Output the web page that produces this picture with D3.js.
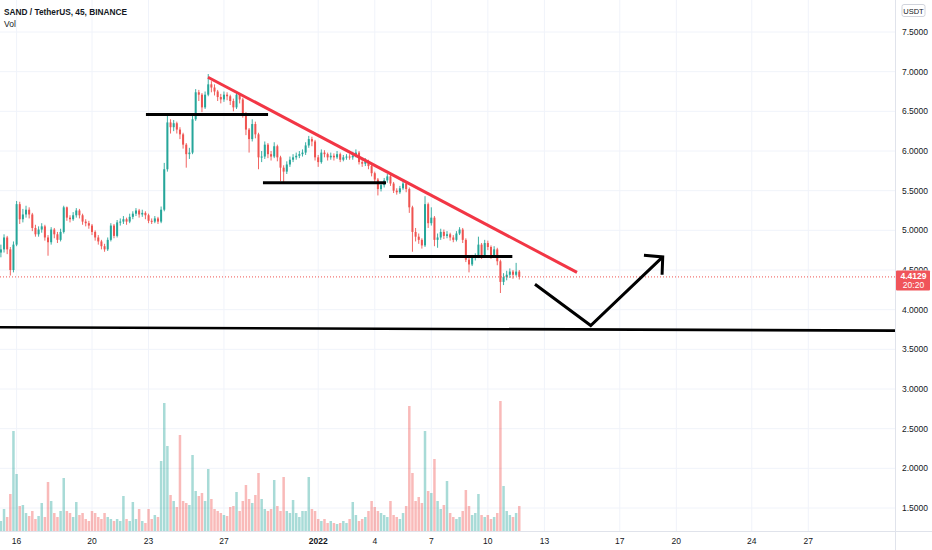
<!DOCTYPE html>
<html>
<head>
<meta charset="utf-8">
<script src="https://cdn.jsdelivr.net/npm/d3@7"></script>
<style>
  body { margin: 0; background: #fff; }
  svg { display: block; font-family: "Liberation Sans", Arial, sans-serif; }
</style>
</head>
<body>
<svg id="chart" width="932" height="550"></svg>
<script>
// data: SAND/USDT candles (4h buckets), Binance
var firstCandle = new Date(2021, 11, 15, 4);
var candleHours = 4;

var opens = [4.72,4.76,4.91,4.76,4.50,4.82,5.33,5.14,5.20,5.26,5.20,5.03,4.95,5.01,5.05,4.91,4.85,5.01,4.95,4.88,
  4.98,5.29,5.16,5.14,5.19,5.25,5.19,5.11,5.09,5.06,4.98,4.91,4.86,4.80,4.76,4.88,5.06,4.93,5.10,5.11,
  5.14,5.11,5.17,5.21,5.25,5.20,5.22,5.19,5.12,5.11,5.15,5.11,5.26,5.77,6.36,6.30,6.35,6.27,6.21,6.08,
  5.96,5.98,6.40,6.74,6.71,6.55,6.71,6.84,6.80,6.75,6.68,6.65,6.71,6.69,6.63,6.55,6.71,6.65,6.47,6.27,
  6.15,6.34,6.21,5.92,5.93,6.08,5.96,5.93,6.06,5.92,5.79,5.74,5.83,5.89,5.92,5.94,5.96,5.98,6.07,6.15,
  6.12,5.92,5.86,5.98,5.96,5.92,5.94,5.92,5.96,5.89,5.92,5.93,5.92,5.94,5.98,5.86,5.84,5.87,5.81,5.72,
  5.64,5.52,5.57,5.63,5.68,5.59,5.50,5.48,5.53,5.59,5.52,5.29,4.98,4.92,4.88,4.81,5.33,5.09,5.16,4.88,
  4.91,4.98,4.93,4.95,4.91,4.88,4.96,5.01,4.88,4.63,4.57,4.66,4.67,4.82,4.68,4.84,4.79,4.68,4.76,4.61,
  4.35,4.41,4.44,4.48,4.44,4.48];
var highs = [4.82,4.95,4.93,4.79,4.86,5.37,5.36,5.27,5.31,5.29,5.22,5.07,5.05,5.09,5.07,4.94,5.04,5.03,4.98,5.02,
  5.31,5.30,5.19,5.23,5.28,5.27,5.21,5.14,5.12,5.08,5.00,4.94,4.88,4.83,4.91,5.09,5.08,5.13,5.15,5.18,
  5.16,5.21,5.24,5.28,5.27,5.26,5.24,5.21,5.15,5.18,5.17,5.30,5.85,6.47,6.40,6.39,6.37,6.30,6.23,6.10,
  6.04,6.46,6.78,6.77,6.73,6.75,6.97,6.88,6.84,6.77,6.72,6.75,6.74,6.71,6.66,6.75,6.73,6.67,6.49,6.29,
  6.40,6.37,6.23,6.00,6.12,6.10,6.00,6.11,6.08,5.94,5.82,5.87,5.93,5.96,5.98,6.00,6.02,6.11,6.19,6.18,
  6.14,5.95,6.02,6.01,5.98,5.98,5.97,6.00,5.98,5.95,5.96,5.96,5.99,6.02,6.00,5.89,5.91,5.89,5.83,5.74,
  5.66,5.61,5.66,5.71,5.70,5.61,5.53,5.56,5.62,5.61,5.54,5.31,5.03,4.96,4.90,5.43,5.35,5.29,5.18,4.96,
  5.02,5.01,4.99,4.97,4.94,4.99,5.04,5.03,4.90,4.66,4.69,4.71,4.92,4.84,4.88,4.87,4.81,4.80,4.78,4.63,
  4.46,4.49,4.52,4.50,4.59,4.50];
var lows = [4.66,4.72,4.70,4.43,4.47,4.80,5.08,5.10,5.16,5.15,4.99,4.92,4.92,4.97,4.87,4.68,4.82,4.90,4.84,4.86,
  4.96,5.12,5.10,5.12,5.16,5.15,5.07,5.05,5.02,4.94,4.87,4.82,4.76,4.73,4.74,4.86,4.90,4.91,5.06,5.08,
  5.07,5.09,5.14,5.18,5.16,5.17,5.14,5.09,5.08,5.09,5.08,5.09,5.24,5.74,6.22,6.25,6.22,6.15,6.03,5.79,
  5.90,5.96,6.38,6.63,6.49,6.53,6.69,6.74,6.70,6.63,6.60,6.62,6.64,6.58,6.50,6.53,6.60,6.42,6.20,5.98,
  6.12,6.16,5.77,5.86,5.90,5.91,5.88,5.91,5.87,5.62,5.60,5.71,5.80,5.86,5.89,5.91,5.93,5.95,6.04,6.06,
  5.88,5.80,5.84,5.92,5.88,5.89,5.88,5.90,5.86,5.87,5.89,5.89,5.89,5.92,5.83,5.80,5.81,5.77,5.68,5.60,
  5.44,5.49,5.54,5.60,5.56,5.47,5.45,5.46,5.51,5.48,5.22,4.73,4.86,4.83,4.77,4.79,5.03,5.06,4.80,4.78,
  4.88,4.89,4.90,4.87,4.85,4.86,4.94,4.84,4.60,4.47,4.55,4.62,4.65,4.64,4.66,4.75,4.64,4.66,4.56,4.21,
  4.31,4.37,4.40,4.39,4.42,4.38];
var closes = [4.76,4.91,4.76,4.50,4.82,5.33,5.14,5.20,5.26,5.20,5.03,4.95,5.01,5.05,4.91,4.85,5.01,4.95,4.88,4.98,
  5.29,5.16,5.14,5.19,5.25,5.19,5.11,5.09,5.06,4.98,4.91,4.86,4.80,4.76,4.88,5.06,4.93,5.10,5.11,5.14,
  5.11,5.17,5.21,5.25,5.20,5.22,5.19,5.12,5.11,5.15,5.11,5.26,5.77,6.36,6.30,6.35,6.27,6.21,6.08,5.96,
  5.98,6.40,6.74,6.71,6.55,6.71,6.84,6.80,6.75,6.68,6.65,6.71,6.69,6.63,6.55,6.71,6.65,6.47,6.27,6.15,
  6.34,6.21,5.92,5.93,6.08,5.96,5.93,6.06,5.92,5.79,5.74,5.83,5.89,5.92,5.94,5.96,5.98,6.07,6.15,6.12,
  5.92,5.86,5.98,5.96,5.92,5.94,5.92,5.96,5.89,5.92,5.93,5.92,5.94,5.98,5.86,5.84,5.87,5.81,5.72,5.64,
  5.52,5.57,5.63,5.68,5.59,5.50,5.48,5.53,5.59,5.52,5.29,4.98,4.92,4.88,4.81,5.33,5.09,5.16,4.88,4.91,
  4.98,4.93,4.95,4.91,4.88,4.96,5.01,4.88,4.63,4.57,4.66,4.67,4.82,4.68,4.84,4.79,4.68,4.76,4.61,4.35,
  4.41,4.44,4.48,4.44,4.48,4.4129];
// volume in millions SAND
var volumes = [0.20,0.44,0.28,0.74,2.00,1.14,0.50,0.52,0.36,0.30,0.40,0.24,0.30,0.56,0.28,0.98,0.60,0.36,0.28,0.40,
  1.06,0.40,0.36,0.28,0.58,0.32,0.36,0.24,0.20,0.40,0.36,0.28,0.24,0.36,0.28,0.24,0.20,0.24,0.20,0.70,
  0.24,0.20,0.58,0.24,0.44,0.20,0.16,0.44,0.24,0.32,0.28,1.40,2.56,1.70,0.72,0.60,0.48,1.92,0.60,0.56,
  0.52,1.52,0.80,0.70,0.76,0.60,1.24,0.64,0.44,0.40,0.36,0.32,0.30,0.48,0.50,0.78,0.40,0.60,0.92,0.64,
  0.56,0.72,1.16,0.64,0.44,0.40,0.44,1.02,0.50,0.40,1.08,0.40,0.36,0.62,0.36,0.28,0.40,0.40,1.08,0.44,
  0.40,0.24,0.20,0.24,0.16,0.20,0.16,0.14,0.16,0.20,0.16,0.24,0.58,0.32,0.20,0.24,0.28,0.40,0.60,0.48,
  0.40,0.36,0.32,0.28,0.60,0.32,0.28,0.24,0.36,0.50,2.50,1.16,0.60,0.68,0.56,2.00,0.80,0.76,1.44,0.60,
  0.44,0.52,1.00,0.36,0.28,0.24,0.28,0.40,0.82,0.50,0.32,0.36,0.74,0.32,0.28,0.32,0.24,0.28,0.36,2.60,
  0.90,0.40,0.32,0.28,0.36,0.50];

var priceTicks = [1.5, 2, 2.5, 3, 3.5, 4, 4.5, 5, 5.5, 6, 6.5, 7, 7.5];
var timeTicks = [new Date(2021,11,16), new Date(2021,11,20), new Date(2021,11,23), new Date(2021,11,27),
  new Date(2022,0,1), new Date(2022,0,4), new Date(2022,0,7), new Date(2022,0,10), new Date(2022,0,13),
  new Date(2022,0,17), new Date(2022,0,20), new Date(2022,0,24), new Date(2022,0,27)];
var timeTickLabels = ["16", "20", "23", "27", "2022", "4", "7", "10", "13", "17", "20", "24", "27"];

var lastPrice = 4.4129;
var lastCountdown = "20:20";

// drawings on the chart (time, price)
var levelLines = [
  [[new Date(2021,11,22,20,40), 6.46], [new Date(2021,11,29,8,10), 6.46]],
  [[new Date(2021,11,29,1,40), 5.60], [new Date(2022,0,4,14,20), 5.60]],
  [[new Date(2022,0,4,18,10), 4.67], [new Date(2022,0,11,7,10), 4.67]]
];
var trendLine = [[new Date(2021,11,26,3,40), 6.93], [new Date(2022,0,14,17,30), 4.47]];
var supportLine = [[new Date(2021,11,14), 3.780], [new Date(2022,1,2), 3.734]];
var arrowPath = [[new Date(2022,0,12,12,0), 4.32], [new Date(2022,0,15,11,0), 3.80], [new Date(2022,0,19,6,40), 4.665]];
var arrowHead = [[new Date(2022,0,18,6,45), 4.686], [new Date(2022,0,19,6,40), 4.665], [new Date(2022,0,19,5,50), 4.44]];

// layout
var W = 932, H = 550;
var plotRight = 895, timeAxisY = 531;
var upColor = "#26a69a", downColor = "#ef5350";
var textColor = "#131722";

var svg = d3.select("#chart");

var x = d3.scaleTime()
  .domain([new Date(2021,11,16), new Date(2022,0,27)])
  .range([16.6, 808.3]);
var y = d3.scaleLinear().domain([1.5, 7.5]).range([508, 32]);
var yVol = d3.scaleLinear().domain([0, 2.6]).range([timeAxisY, 401]);

var candles = closes.map(function (c, i) {
  return {
    t: d3.timeHour.offset(firstCandle, i * candleHours),
    o: opens[i], h: highs[i], l: lows[i], c: c, v: volumes[i]
  };
});

var badgeTop = y(lastPrice) - 6.5;

var defs = svg.append("defs");
defs.append("clipPath").attr("id", "plotClip")
  .append("rect").attr("x", 0).attr("y", 0).attr("width", plotRight).attr("height", timeAxisY);
// price labels are hidden where the last price badge sits
defs.append("clipPath").attr("id", "axisClip")
  .append("path")
  .attr("d", "M" + plotRight + ",0H" + W + "V" + badgeTop + "H" + plotRight + "Z" +
    "M" + plotRight + "," + (badgeTop + 20) + "H" + W + "V" + timeAxisY + "H" + plotRight + "Z");

// grid
var grid = svg.append("g");
grid.selectAll("line.h").data(priceTicks).enter().append("line")
  .attr("x1", 0).attr("x2", plotRight)
  .attr("y1", function (d) { return y(d); }).attr("y2", function (d) { return y(d); })
  .attr("stroke", "#f0f3fa").attr("stroke-width", 1);
grid.selectAll("line.v").data(timeTicks).enter().append("line")
  .attr("x1", function (d) { return x(d); }).attr("x2", function (d) { return x(d); })
  .attr("y1", 0).attr("y2", timeAxisY)
  .attr("stroke", "#f0f3fa").attr("stroke-width", 1);

var plot = svg.append("g").attr("clip-path", "url(#plotClip)");

// volume
plot.append("g").selectAll("rect").data(candles).enter().append("rect")
  .attr("x", function (d) { return x(d.t) - 1.25; })
  .attr("width", 2.5)
  .attr("y", function (d) { return yVol(d.v); })
  .attr("height", function (d) { return yVol(0) - yVol(d.v); })
  .attr("fill", function (d) { return d.c >= d.o ? upColor : downColor; })
  .attr("fill-opacity", 0.4);

// candles
var cg = plot.append("g").selectAll("g").data(candles).enter().append("g");
cg.append("line")
  .attr("x1", function (d) { return x(d.t); }).attr("x2", function (d) { return x(d.t); })
  .attr("y1", function (d) { return y(d.h); }).attr("y2", function (d) { return y(d.l); })
  .attr("stroke", function (d) { return d.c >= d.o ? upColor : downColor; })
  .attr("stroke-width", 0.9);
cg.append("rect")
  .attr("x", function (d) { return x(d.t) - 1; })
  .attr("width", 2)
  .attr("y", function (d) { return y(Math.max(d.o, d.c)); })
  .attr("height", function (d) { return Math.max(1, Math.abs(y(d.o) - y(d.c))); })
  .attr("fill", function (d) { return d.c >= d.o ? upColor : downColor; });

// last price line
plot.append("line")
  .attr("x1", 0).attr("x2", plotRight)
  .attr("y1", y(lastPrice)).attr("y2", y(lastPrice))
  .attr("stroke", downColor).attr("stroke-width", 1).attr("stroke-dasharray", "1,2");

// drawings
var line = d3.line().x(function (d) { return x(d[0]); }).y(function (d) { return y(d[1]); });
plot.selectAll("path.level").data(levelLines).enter().append("path")
  .attr("d", line).attr("stroke", "#000").attr("stroke-width", 3.2).attr("fill", "none");
plot.append("path").attr("d", line(trendLine))
  .attr("stroke", "#f23645").attr("stroke-width", 3).attr("fill", "none");
plot.append("path").attr("d", line(supportLine))
  .attr("stroke", "#000").attr("stroke-width", 2.6).attr("fill", "none");
plot.append("path").attr("d", line(arrowPath))
  .attr("stroke", "#000").attr("stroke-width", 3).attr("fill", "none");
plot.append("path").attr("d", line(arrowHead))
  .attr("stroke", "#000").attr("stroke-width", 3).attr("fill", "none");

// axes borders
svg.append("line").attr("x1", plotRight + 0.5).attr("x2", plotRight + 0.5).attr("y1", 0).attr("y2", H)
  .attr("stroke", "#e0e3eb");
svg.append("line").attr("x1", 0).attr("x2", W).attr("y1", timeAxisY + 0.5).attr("y2", timeAxisY + 0.5)
  .attr("stroke", "#e0e3eb");

// price axis labels
svg.append("g").attr("clip-path", "url(#axisClip)")
  .selectAll("text").data(priceTicks).enter().append("text")
  .attr("x", 902).attr("y", function (d) { return y(d) + 3.1; })
  .attr("font-size", 8.5).attr("fill", textColor)
  .text(function (d) { return d.toFixed(4); });

// time axis labels
svg.append("g").selectAll("text").data(timeTicks).enter().append("text")
  .attr("x", function (d) { return x(d); }).attr("y", 544)
  .attr("text-anchor", "middle").attr("font-size", 8.5).attr("fill", textColor)
  .attr("font-weight", function (d, i) { return timeTickLabels[i] === "2022" ? "bold" : "normal"; })
  .text(function (d, i) { return timeTickLabels[i]; });

// last price badge
var badge = svg.append("g");
badge.append("rect").attr("x", plotRight + 1).attr("y", badgeTop)
  .attr("width", W - plotRight - 3).attr("height", 20).attr("fill", "#f0545a").attr("rx", 1);
badge.append("text").attr("x", 913.5).attr("y", y(lastPrice) + 2.5)
  .attr("text-anchor", "middle").attr("font-size", 8.5).attr("font-weight", "bold").attr("fill", "#fff")
  .text(lastPrice.toFixed(4));
badge.append("text").attr("x", 913.5).attr("y", y(lastPrice) + 11.5)
  .attr("text-anchor", "middle").attr("font-size", 8.5).attr("fill", "#fff")
  .text(lastCountdown);

// currency box
svg.append("rect").attr("x", 902).attr("y", 4.5).attr("width", 23).attr("height", 12).attr("rx", 2)
  .attr("fill", "#fff").attr("stroke", "#d1d4dc");
svg.append("text").attr("x", 913.5).attr("y", 13.5).attr("text-anchor", "middle")
  .attr("font-size", 7.5).attr("fill", textColor).text("USDT");

// legend
svg.append("text").attr("x", 4).attr("y", 15).attr("font-size", 8.3).attr("font-weight", "bold")
  .attr("fill", textColor).text("SAND / TetherUS, 45, BINANCE");
svg.append("text").attr("x", 4).attr("y", 27).attr("font-size", 8.5)
  .attr("fill", textColor).text("Vol");
</script>
</body>
</html>
